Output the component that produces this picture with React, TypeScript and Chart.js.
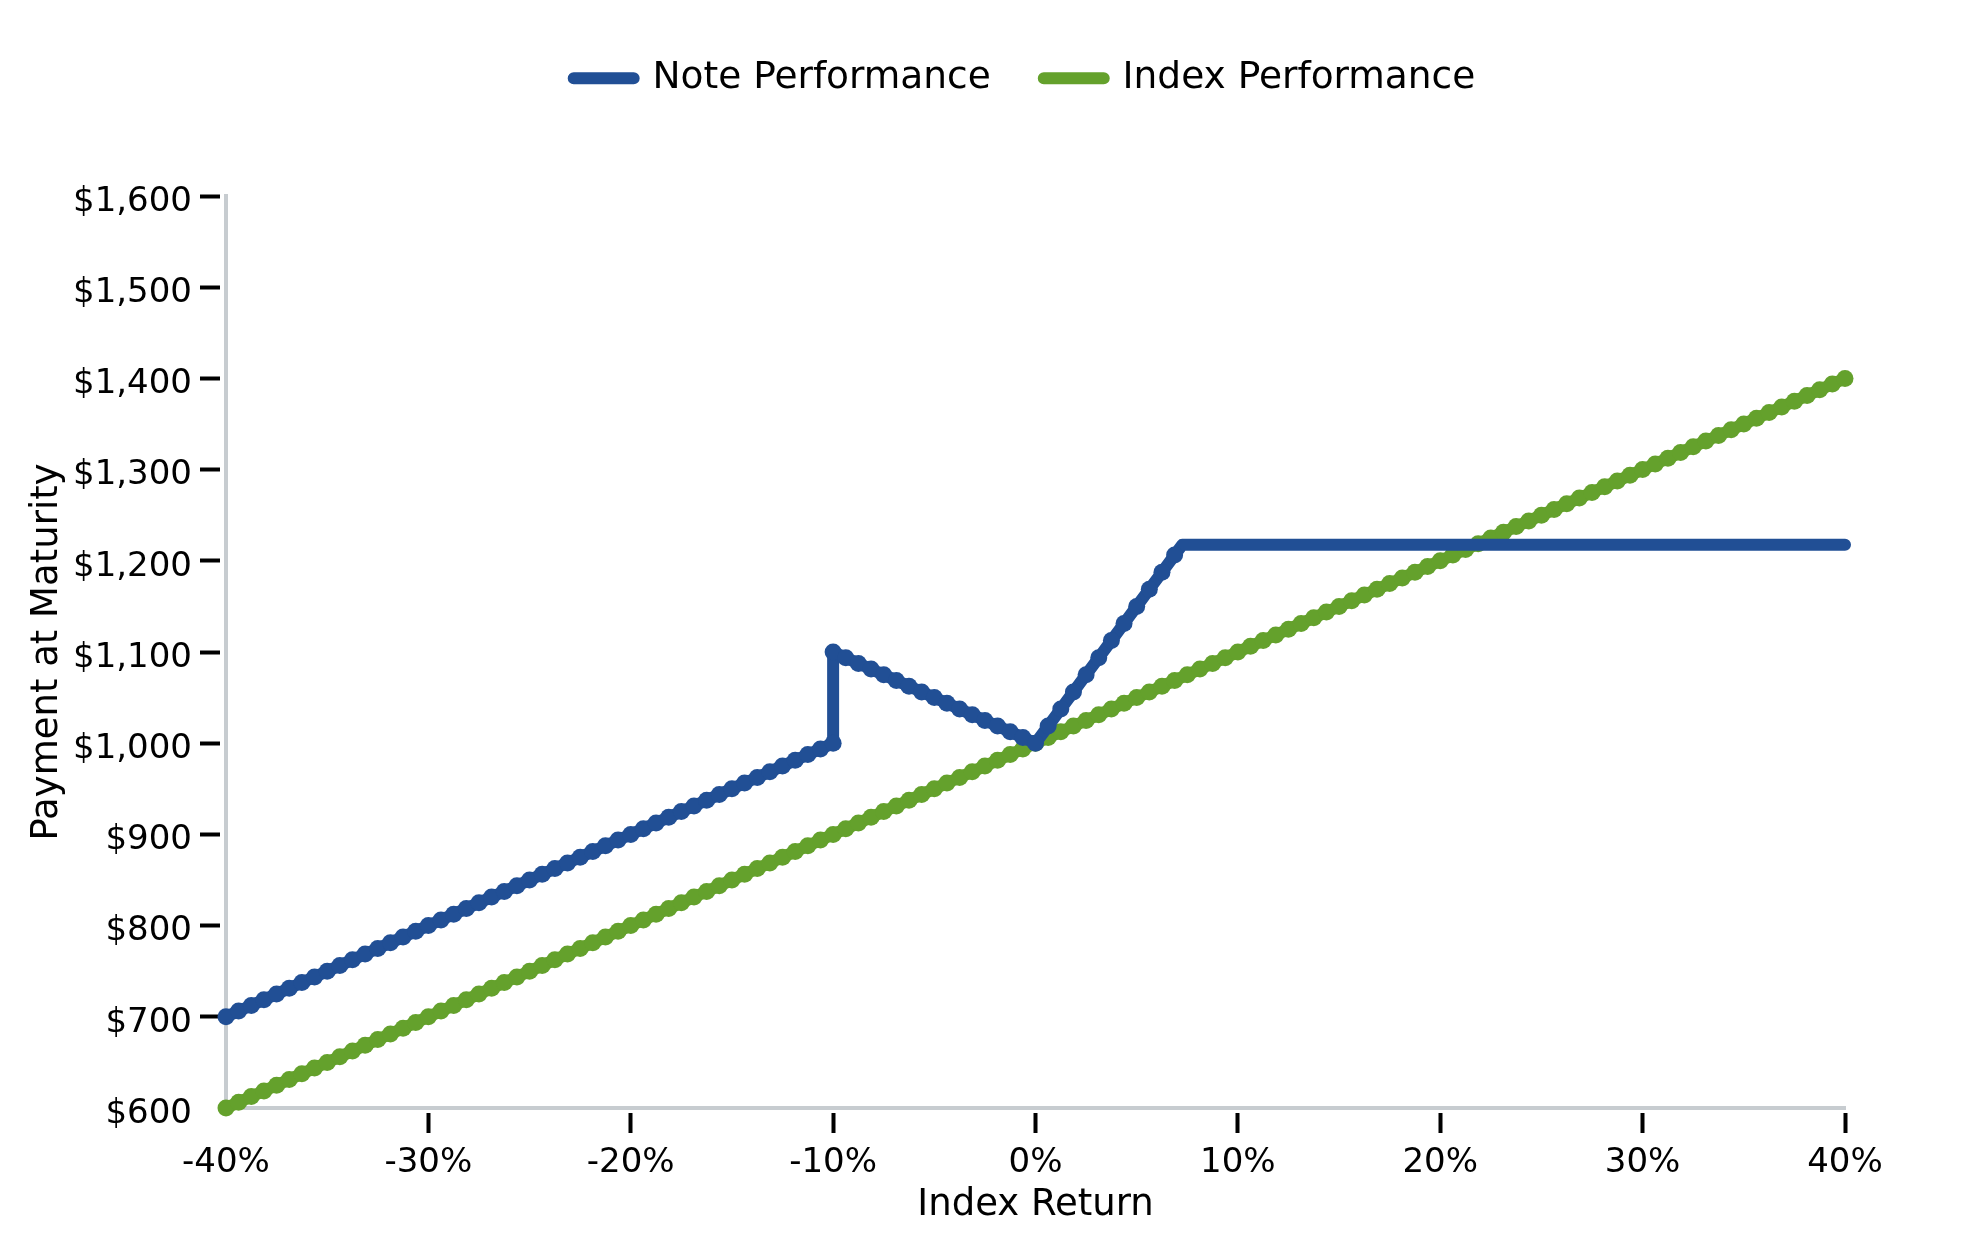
import React, { useEffect, useRef } from 'react';
import { Chart, registerables } from 'chart.js';

Chart.register(...registerables);

// ---------- data ----------
const returns = [
  -40, -39.375, -38.75, -38.125, -37.5, -36.875, -36.25, -35.625,
  -35, -34.375, -33.75, -33.125, -32.5, -31.875, -31.25, -30.625,
  -30, -29.375, -28.75, -28.125, -27.5, -26.875, -26.25, -25.625,
  -25, -24.375, -23.75, -23.125, -22.5, -21.875, -21.25, -20.625,
  -20, -19.375, -18.75, -18.125, -17.5, -16.875, -16.25, -15.625,
  -15, -14.375, -13.75, -13.125, -12.5, -11.875, -11.25, -10.625,
  -10, -9.375, -8.75, -8.125, -7.5, -6.875, -6.25, -5.625,
  -5, -4.375, -3.75, -3.125, -2.5, -1.875, -1.25, -0.625,
  0, 0.625, 1.25, 1.875, 2.5, 3.125, 3.75, 4.375,
  5, 5.625, 6.25, 6.875, 7.5, 8.125, 8.75, 9.375,
  10, 10.625, 11.25, 11.875, 12.5, 13.125, 13.75, 14.375,
  15, 15.625, 16.25, 16.875, 17.5, 18.125, 18.75, 19.375,
  20, 20.625, 21.25, 21.875, 22.5, 23.125, 23.75, 24.375,
  25, 25.625, 26.25, 26.875, 27.5, 28.125, 28.75, 29.375,
  30, 30.625, 31.25, 31.875, 32.5, 33.125, 33.75, 34.375,
  35, 35.625, 36.25, 36.875, 37.5, 38.125, 38.75, 39.375,
  40,
];

const indexValues = [
  600, 606.25, 612.5, 618.75, 625, 631.25, 637.5, 643.75,
  650, 656.25, 662.5, 668.75, 675, 681.25, 687.5, 693.75,
  700, 706.25, 712.5, 718.75, 725, 731.25, 737.5, 743.75,
  750, 756.25, 762.5, 768.75, 775, 781.25, 787.5, 793.75,
  800, 806.25, 812.5, 818.75, 825, 831.25, 837.5, 843.75,
  850, 856.25, 862.5, 868.75, 875, 881.25, 887.5, 893.75,
  900, 906.25, 912.5, 918.75, 925, 931.25, 937.5, 943.75,
  950, 956.25, 962.5, 968.75, 975, 981.25, 987.5, 993.75,
  1000, 1006.25, 1012.5, 1018.75, 1025, 1031.25, 1037.5, 1043.75,
  1050, 1056.25, 1062.5, 1068.75, 1075, 1081.25, 1087.5, 1093.75,
  1100, 1106.25, 1112.5, 1118.75, 1125, 1131.25, 1137.5, 1143.75,
  1150, 1156.25, 1162.5, 1168.75, 1175, 1181.25, 1187.5, 1193.75,
  1200, 1206.25, 1212.5, 1218.75, 1225, 1231.25, 1237.5, 1243.75,
  1250, 1256.25, 1262.5, 1268.75, 1275, 1281.25, 1287.5, 1293.75,
  1300, 1306.25, 1312.5, 1318.75, 1325, 1331.25, 1337.5, 1343.75,
  1350, 1356.25, 1362.5, 1368.75, 1375, 1381.25, 1387.5, 1393.75,
  1400,
];

const noteReturns = [
  -40, -39.375, -38.75, -38.125, -37.5, -36.875, -36.25, -35.625,
  -35, -34.375, -33.75, -33.125, -32.5, -31.875, -31.25, -30.625,
  -30, -29.375, -28.75, -28.125, -27.5, -26.875, -26.25, -25.625,
  -25, -24.375, -23.75, -23.125, -22.5, -21.875, -21.25, -20.625,
  -20, -19.375, -18.75, -18.125, -17.5, -16.875, -16.25, -15.625,
  -15, -14.375, -13.75, -13.125, -12.5, -11.875, -11.25, -10.625,
  -10,
  -10, -9.375, -8.75, -8.125, -7.5, -6.875, -6.25, -5.625,
  -5, -4.375, -3.75, -3.125, -2.5, -1.875, -1.25, -0.625,
  0,
  0.625, 1.25, 1.875, 2.5, 3.125, 3.75, 4.375, 5, 5.625, 6.25, 6.875,
  7.25,
  7.5, 8.125, 8.75, 9.375,
  10, 10.625, 11.25, 11.875, 12.5, 13.125, 13.75, 14.375,
  15, 15.625, 16.25, 16.875, 17.5, 18.125, 18.75, 19.375,
  20, 20.625, 21.25, 21.875, 22.5, 23.125, 23.75, 24.375,
  25, 25.625, 26.25, 26.875, 27.5, 28.125, 28.75, 29.375,
  30, 30.625, 31.25, 31.875, 32.5, 33.125, 33.75, 34.375,
  35, 35.625, 36.25, 36.875, 37.5, 38.125, 38.75, 39.375,
  40,
];

const noteValues = [
  700, 706.25, 712.5, 718.75, 725, 731.25, 737.5, 743.75,
  750, 756.25, 762.5, 768.75, 775, 781.25, 787.5, 793.75,
  800, 806.25, 812.5, 818.75, 825, 831.25, 837.5, 843.75,
  850, 856.25, 862.5, 868.75, 875, 881.25, 887.5, 893.75,
  900, 906.25, 912.5, 918.75, 925, 931.25, 937.5, 943.75,
  950, 956.25, 962.5, 968.75, 975, 981.25, 987.5, 993.75,
  1000,
  1100, 1093.75, 1087.5, 1081.25, 1075, 1068.75, 1062.5, 1056.25,
  1050, 1043.75, 1037.5, 1031.25, 1025, 1018.75, 1012.5, 1006.25,
  1000,
  1018.75, 1037.5, 1056.25, 1075, 1093.75, 1112.5, 1131.25, 1150, 1168.75, 1187.5, 1206.25,
  1217.5,
  1217.5, 1217.5, 1217.5, 1217.5,
  1217.5, 1217.5, 1217.5, 1217.5, 1217.5, 1217.5, 1217.5, 1217.5,
  1217.5, 1217.5, 1217.5, 1217.5, 1217.5, 1217.5, 1217.5, 1217.5,
  1217.5, 1217.5, 1217.5, 1217.5, 1217.5, 1217.5, 1217.5, 1217.5,
  1217.5, 1217.5, 1217.5, 1217.5, 1217.5, 1217.5, 1217.5, 1217.5,
  1217.5, 1217.5, 1217.5, 1217.5, 1217.5, 1217.5, 1217.5, 1217.5,
  1217.5, 1217.5, 1217.5, 1217.5, 1217.5, 1217.5, 1217.5, 1217.5,
  1217.5,
];

const noteCap = 1217.5;

const xTicks = [-40, -30, -20, -10, 0, 10, 20, 30, 40];
const yTicks = [600, 700, 800, 900, 1000, 1100, 1200, 1300, 1400, 1500, 1600];

const seriesLabels = ['Note Performance', 'Index Performance'];
const xTitle = 'Index Return';
const yTitle = 'Payment at Maturity';

// ---------- style ----------
const FONT = "'DejaVu Sans', 'Liberation Sans', sans-serif";
const BLUE = '#214f95';
const GREEN = '#64a12c';
const AXIS_GRAY = '#c7ccd0';
const MARKER_R = 8.5;

export default function App() {
  const ref = useRef<HTMLCanvasElement>(null);

  useEffect(() => {
    const canvas = ref.current;
    if (!canvas) return;

    const lineStyle = (color: string) => ({
      borderColor: color,
      backgroundColor: color,
      borderWidth: 12,
      pointRadius: MARKER_R,
      pointHoverRadius: MARKER_R,
      pointBorderWidth: 0,
      pointBackgroundColor: color,
      borderJoinStyle: 'round' as const,
      borderCapStyle: 'round' as const,
      tension: 0,
      fill: false,
      clip: 12,
    });

    const chart = new Chart(canvas, {
      type: 'line',
      data: {
        datasets: [
          {
            label: seriesLabels[0],
            data: noteReturns.map((x, i) => ({ x, y: noteValues[i] })),
            ...lineStyle(BLUE),
            // the capped (flat) part of the note line is drawn without markers
            pointRadius: (ctx: any) => (ctx.raw && ctx.raw.y >= noteCap ? 0 : MARKER_R),
          },
          {
            label: seriesLabels[1],
            data: returns.map((x, i) => ({ x, y: indexValues[i] })),
            ...lineStyle(GREEN),
          },
        ],
      },
      options: {
        responsive: false,
        animation: false,
        events: [],
        layout: { padding: { left: 70, right: 0, top: 6.5, bottom: 0 } },
        plugins: {
          legend: {
            display: true,
            position: 'top',
            fullSize: true,
            weight: 1000,
            labels: {
              font: { family: FONT, size: 37.5 },
              color: '#000',
              boxWidth: 60,
              boxHeight: 0,
              padding: 53,
            },
          } as any,
          title: {
            display: true,
            text: '',
            position: 'top',
            weight: 500,
            padding: { top: 0, bottom: 0 },
            font: { size: 10, lineHeight: 8.9 },
          } as any,
          tooltip: { enabled: false },
        },
        scales: {
          x: {
            type: 'linear',
            min: -40,
            max: 40,
            afterBuildTicks: (scale: any) => {
              scale.ticks = xTicks.map((v) => ({ value: v }));
            },
            afterFit: (scale: any) => {
              scale.height = 142;
              scale.paddingRight = 134;
              scale.paddingLeft = 0;
            },
            ticks: {
              autoSkip: false,
              maxRotation: 0,
              font: { family: FONT, size: 34 },
              color: '#000',
              padding: 10,
              callback: (v: any) => `${v}%`,
            },
            grid: {
              display: true,
              drawOnChartArea: false,
              drawTicks: true,
              tickLength: 25,
              tickWidth: 4,
              tickColor: (ctx: any) => (ctx.index === 0 ? 'rgba(0,0,0,0)' : '#000'),
              tickBorderDash: [0, 3, 20, 100],
            } as any,
            border: { display: true, color: AXIS_GRAY, width: 4 },
            title: {
              display: true,
              text: xTitle,
              font: { family: FONT, size: 37 },
              color: '#000',
              padding: { top: 0, bottom: 22.3 },
            },
          },
          y: {
            type: 'linear',
            min: 600,
            max: 1600,
            afterBuildTicks: (scale: any) => {
              scale.ticks = yTicks.map((v) => ({ value: v }));
            },
            afterFit: (scale: any) => {
              scale.width = 156;
            },
            ticks: {
              autoSkip: false,
              font: { family: FONT, size: 34 },
              color: '#000',
              padding: 8,
              labelOffset: 6,
              callback: (v: any) => '$' + Number(v).toLocaleString('en-US'),
            },
            grid: {
              display: true,
              drawOnChartArea: false,
              drawTicks: true,
              tickLength: 26,
              tickWidth: 4,
              tickColor: (ctx: any) => (ctx.index === 0 ? 'rgba(0,0,0,0)' : '#000'),
              tickBorderDash: [20, 100],
            } as any,
            border: { display: true, color: AXIS_GRAY, width: 4 },
            title: {
              display: true,
              text: yTitle,
              font: { family: FONT, size: 37 },
              color: '#000',
              padding: { top: -44.7, bottom: 0 },
            },
          },
        },
      },
    });

    return () => chart.destroy();
  }, []);

  return (
    <div style={{ position: 'absolute', left: 0, top: 0, width: 1979, height: 1250, background: '#fff' }}>
      <canvas ref={ref} width={1979} height={1250} style={{ width: 1979, height: 1250, display: 'block' }} />
    </div>
  );
}
